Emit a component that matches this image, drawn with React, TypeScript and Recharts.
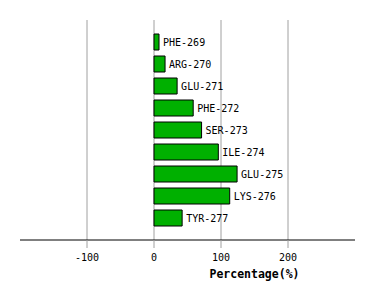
import React from "react";
import {
  BarChart,
  Bar,
  XAxis,
  YAxis,
  CartesianGrid,
  LabelList,
} from "recharts";

const residues = [
  "PHE-269",
  "ARG-270",
  "GLU-271",
  "PHE-272",
  "SER-273",
  "ILE-274",
  "GLU-275",
  "LYS-276",
  "TYR-277",
];
const percentages = [7.5, 16.5, 34.5, 58.5, 71, 96, 124, 113, 42];
const xTicks = [-100, 0, 100, 200];
const xDomain: [number, number] = [-200, 300];

const data = residues.map((name, i) => ({ name, value: percentages[i] }));

const mono = "'DejaVu Sans Mono', monospace";

// grid lines only at the ticks (the default also draws the domain edges)
const gridAtTicks = (props: any) => {
  const scale = props?.xAxis?.scale;
  if (typeof scale === "function") return xTicks.map((t) => scale(t));
  const off = props?.offset;
  if (!off) return [];
  const span = xDomain[1] - xDomain[0];
  return xTicks.map((t) => off.left + ((t - xDomain[0]) / span) * off.width);
};

const App: React.FC = () => {
  return (
    <div style={{ position: "absolute", left: 0, top: 0, background: "#fff" }}>
      <BarChart
        width={374}
        height={300}
        data={data}
        layout="vertical"
        margin={{ top: 20, right: 19, bottom: 20, left: 20 }}
        barCategoryGap={3}
      >
        <CartesianGrid
          horizontal={false}
          stroke="#a0a0a0"
          verticalCoordinatesGenerator={gridAtTicks}
        />
        <XAxis
          type="number"
          domain={xDomain}
          ticks={xTicks}
          height={40}
          tickSize={8}
          tickMargin={6}
          axisLine={{ stroke: "#000" }}
          tickLine={{ stroke: "#a0a0a0" }}
          tick={{ fill: "#000", fontSize: 10, fontFamily: mono }}
          label={{
            value: "Percentage(%)",
            position: "bottom",
            offset: -10,
            dx: 67,
            fill: "#000",
            fontSize: 11.5,
            fontWeight: "bold",
            fontFamily: mono,
          }}
        />
        <YAxis
          type="category"
          dataKey="name"
          hide
          width={0}
          padding={{ top: 11, bottom: 11 }}
        />
        <Bar
          dataKey="value"
          fill="#00b000"
          stroke="#000"
          strokeWidth={1}
          isAnimationActive={false}
        >
          <LabelList
            dataKey="name"
            position="right"
            offset={4}
            fill="#000"
            fontSize={10}
            fontFamily={mono}
          />
        </Bar>
      </BarChart>
    </div>
  );
};

export default App;
